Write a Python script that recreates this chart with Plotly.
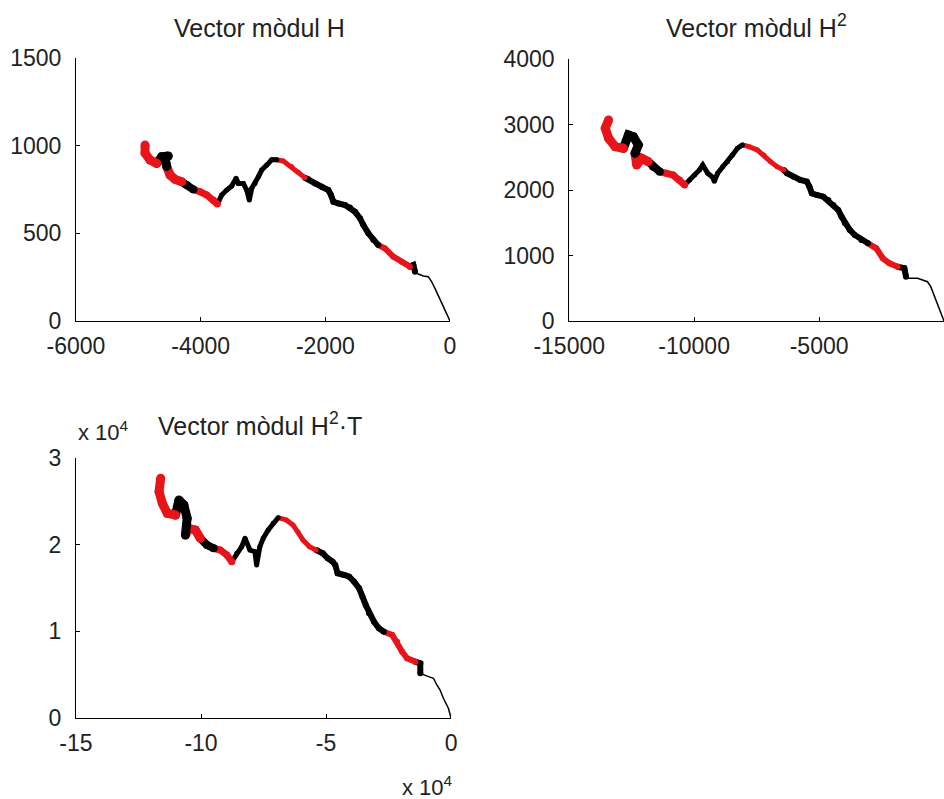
import plotly.graph_objects as go

# ---------------- data ----------------
# Panel 1: Vector mòdul H
h_x = [0, -80, -160, -241, -294, -348, -428, -508, -561, -588, -642, -775, -909, -1043,
       -1150, -1230, -1310, -1390, -1444, -1524, -1604, -1684, -1791, -1871, -1909, -1952,
       -2059, -2165, -2272, -2326, -2433, -2540, -2674, -2780, -2860, -2940, -3021, -3074,
       -3128, -3181, -3219, -3261, -3315, -3395, -3432, -3502, -3582, -3662, -3732, -3796,
       -3903, -4010, -4117, -4224, -4304, -4411, -4491, -4545, -4571, -4518, -4625, -4705,
       -4812, -4892, -4892]
h_y = [0, 63, 129, 186, 224, 253, 257, 268, 281, 319, 310, 338, 367, 414,
       433, 462, 500, 547, 586, 623, 648, 662, 671, 680, 719, 747,
       766, 785, 808, 817, 848, 882, 912, 920, 920, 890, 861, 823,
       785, 757, 690, 747, 785, 785, 814, 770, 747, 719, 667, 690,
       719, 737, 750, 776, 794, 808, 833, 882, 928, 941, 937, 899,
       918, 958, 1004]

# Panel 2: Vector mòdul H^2
h2_x = [0, -198, -331, -463, -529, -661, -860, -1058, -1389, -1521, -1587, -1852, -2182,
        -2447, -2712, -3043, -3308, -3571, -3770, -3968, -4100, -4233, -4431, -4630, -4828,
        -5093, -5291, -5386, -5489, -5754, -6018, -6283, -6416, -6680, -6944, -7209, -7473,
        -7804, -8069, -8267, -8466, -8664, -8862, -9061, -9193, -9259, -9458, -9656, -9788,
        -9986, -10185, -10384, -10582, -10846, -11110, -11375, -11640, -11838, -12103,
        -12301, -12367, -12235, -12433, -12632, -12830, -13161, -13425, -13557, -13425]
h2_y = [0, 194, 321, 448, 524, 600, 626, 652, 652, 677, 805, 829, 881,
        957, 1110, 1186, 1237, 1313, 1390, 1492, 1593, 1695, 1771, 1848, 1898,
        1924, 1950, 2051, 2127, 2153, 2203, 2255, 2306, 2356, 2433, 2535, 2611,
        2662, 2688, 2637, 2535, 2433, 2356, 2255, 2133, 2194, 2255, 2382, 2306,
        2229, 2153, 2077, 2153, 2229, 2255, 2280, 2356, 2433, 2484,
        2382, 2560, 2688, 2814, 2840, 2637, 2662, 2790, 2943, 3069]

# Panel 3: Vector mòdul H^2·T  (both axes in units of 10^4)
h2t_x = [0, -0.107, -0.306, -0.437, -0.567, -0.702, -0.901, -1.099, -1.230, -1.230, -1.428,
         -1.758, -1.956, -2.155, -2.353, -2.686, -2.885, -3.083, -3.282, -3.412, -3.543,
         -3.678, -3.877, -4.075, -4.273, -4.536, -4.631, -4.734, -4.932, -5.131, -5.396,
         -5.662, -5.924, -6.123, -6.321, -6.587, -6.916, -7.115, -7.313, -7.512, -7.646,
         -7.777, -7.844, -8.043, -8.241, -8.372, -8.571, -8.769, -8.968, -9.233, -9.496,
         -9.761, -10.027, -10.225, -10.487, -10.622, -10.555, -10.686, -10.884, -11.019,
         -11.348, -11.547, -11.678, -11.613]
h2t_y = [0, 0.112, 0.227, 0.323, 0.381, 0.458, 0.477, 0.496, 0.515, 0.631, 0.650,
         0.688, 0.765, 0.881, 0.958, 0.996, 1.035, 1.111, 1.208, 1.304, 1.400,
         1.496, 1.573, 1.630, 1.650, 1.670, 1.765, 1.803, 1.843, 1.900, 1.938,
         1.977, 2.054, 2.150, 2.227, 2.285, 2.311, 2.246, 2.169, 2.073, 1.977,
         1.765, 1.919, 1.938, 2.073, 1.977, 1.900, 1.803, 1.881, 1.938, 1.958,
         1.996, 2.073, 2.169, 2.189, 2.111, 2.304, 2.458, 2.515, 2.342,
         2.362, 2.477, 2.611, 2.766]

titles = ["Vector mòdul H", "Vector mòdul H<sup>2</sup>", "Vector mòdul H<sup>2</sup>·T"]

# tick values / labels
x1_ticks = [-6000, -4000, -2000, 0]
y1_ticks = [0, 500, 1000, 1500]
x2_ticks = [-15000, -10000, -5000, 0]
y2_ticks = [0, 1000, 2000, 3000, 4000]
x3_ticks = [-15, -10, -5, 0]
y3_ticks = [0, 1, 2, 3]
exponent_label = "x 10<sup>4</sup>"

# ---------------- styling (colour runs along each path) ----------------
RED = "#e8141a"
BLK = "#000000"
# (start index, end index, colour, width)
runs_h = [(0, 8, BLK, 1.5), (8, 10, BLK, 6), (10, 14, RED, 6), (14, 29, BLK, 6),
          (29, 33, RED, 5), (33, 48, BLK, 5), (48, 52, RED, 7), (52, 54, BLK, 8),
          (54, 57, RED, 9), (57, 61, BLK, 9), (61, 64, RED, 9)]
runs_h2 = [(0, 9, BLK, 1.5), (9, 11, BLK, 6), (11, 15, RED, 6), (15, 32, BLK, 6),
           (32, 38, RED, 5), (38, 51, BLK, 5), (51, 55, RED, 7), (55, 57, BLK, 8),
           (57, 60, RED, 9), (60, 64, BLK, 9), (64, 68, RED, 9)]
runs_h2t = [(0, 8, BLK, 1.5), (8, 10, BLK, 6), (10, 15, RED, 6), (15, 30, BLK, 6),
            (30, 36, RED, 5), (36, 47, BLK, 5), (47, 50, RED, 7), (50, 52, BLK, 8),
            (52, 55, RED, 9), (55, 59, BLK, 9), (59, 63, RED, 9)]

FONT = "Liberation Sans"
TICK_SIZE = 23
TITLE_SIZE = 25

fig = go.Figure()


def add_path(xs, ys, runs, xa, ya):
    for (s, e, col, w) in runs:
        seg_x = xs[s:e + 1]
        seg_y = ys[s:e + 1]
        if w > 2:
            fig.add_trace(go.Scatter(
                x=seg_x, y=seg_y, mode="lines+markers", xaxis=xa, yaxis=ya,
                line=dict(color=col, width=w),
                marker=dict(color=col, size=w, line=dict(width=0)),
                showlegend=False, hoverinfo="skip"))
        else:
            fig.add_trace(go.Scatter(
                x=seg_x, y=seg_y, mode="lines", xaxis=xa, yaxis=ya,
                line=dict(color=col, width=w),
                showlegend=False, hoverinfo="skip"))


add_path(h_x, h_y, runs_h, "x", "y")
add_path(h2_x, h2_y, runs_h2, "x2", "y2")
add_path(h2t_x, h2t_y, runs_h2t, "x3", "y3")


def lbl(vals):
    return [str(v) for v in vals]


axis_common = dict(showline=True, linecolor="black", linewidth=1, ticks="inside",
                   ticklen=4, tickcolor="black", showgrid=False, zeroline=False,
                   mirror=False, automargin=False,
                   tickfont=dict(family=FONT, size=TICK_SIZE, color="#222222"))

fig.update_layout(
    width=944, height=799,
    margin=dict(l=0, r=0, t=0, b=0),
    paper_bgcolor="white", plot_bgcolor="white",
    xaxis=dict(domain=[0.0805, 0.4767], range=[-6000, 0], tickvals=x1_ticks, ticktext=lbl(x1_ticks),
               anchor="y", ticklabelstandoff=4, **axis_common),
    yaxis=dict(domain=[0.5982, 0.9274], range=[0, 1500], tickvals=y1_ticks, ticktext=lbl(y1_ticks),
               anchor="x", ticklabelstandoff=9, **axis_common),
    xaxis2=dict(domain=[0.6030, 1.0], range=[-15000, 0], tickvals=x2_ticks, ticktext=lbl(x2_ticks),
                anchor="y2", ticklabelstandoff=4, **axis_common),
    yaxis2=dict(domain=[0.5982, 0.9262], range=[0, 4000], tickvals=y2_ticks, ticktext=lbl(y2_ticks),
                anchor="x2", ticklabelstandoff=9, **axis_common),
    xaxis3=dict(domain=[0.0805, 0.4778], range=[-15, 0], tickvals=x3_ticks, ticktext=lbl(x3_ticks),
                anchor="y3", ticklabelstandoff=4, **axis_common),
    yaxis3=dict(domain=[0.1014, 0.4268], range=[0, 3], tickvals=y3_ticks, ticktext=lbl(y3_ticks),
                anchor="x3", ticklabelstandoff=9, **axis_common),
)

title_font = dict(family=FONT, size=TITLE_SIZE, color="#222222")
fig.add_annotation(text=titles[0], xref="x domain", yref="paper", x=0.49, y=1 - 28 / 799,
                   showarrow=False, font=title_font, xanchor="center", yanchor="middle")
fig.add_annotation(text=titles[1], xref="x2 domain", yref="paper", x=0.5, y=1 - 26 / 799,
                   showarrow=False, font=title_font, xanchor="center", yanchor="middle")
fig.add_annotation(text=titles[2], xref="x3 domain", yref="paper", x=0.49, y=1 - 424 / 799,
                   showarrow=False, font=title_font, xanchor="center", yanchor="middle")

exp_font = dict(family=FONT, size=22, color="#222222")
fig.add_annotation(text=exponent_label, xref="paper", yref="paper", x=76 / 944, y=1 - 431 / 799,
                   showarrow=False, font=exp_font, xanchor="left", yanchor="middle")
fig.add_annotation(text=exponent_label, xref="paper", yref="paper", x=455 / 944, y=-0.004,
                   showarrow=False, font=exp_font, xanchor="right", yanchor="bottom")

fig.write_html("out.html")
